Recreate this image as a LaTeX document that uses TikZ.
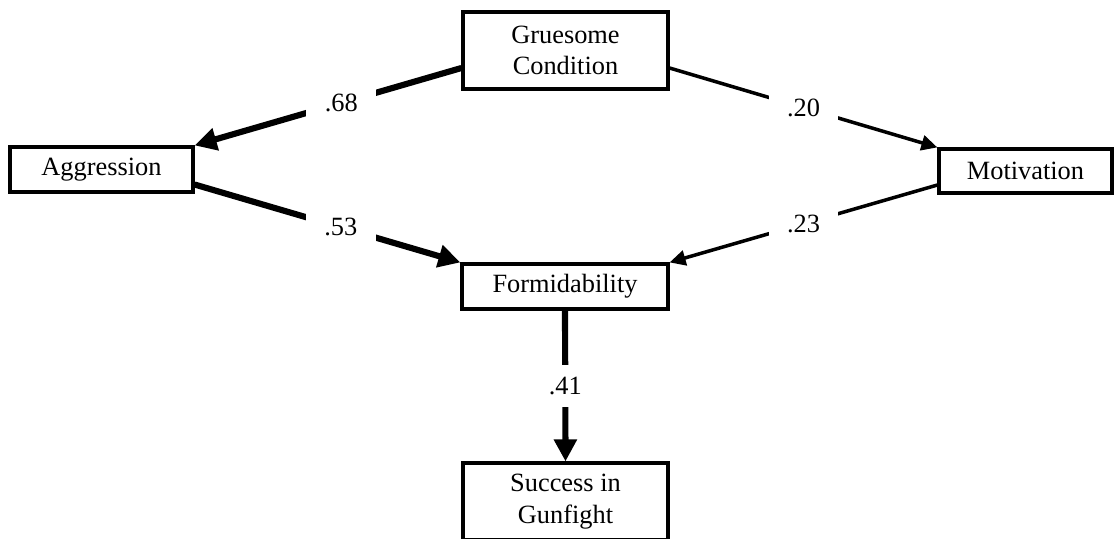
\documentclass[tikz,border=0pt]{standalone}
\usepackage{fontspec}
\setmainfont{Liberation Serif}
\usepackage{tikz}
\usetikzlibrary{positioning,arrows.meta,calc}
\definecolor{ink}{HTML}{000000}
\tikzset{
    varbox/.style={
        draw=ink, fill=white, line width=1.8pt,
        inner sep=0pt, align=center,
        font=\fontsize{15}{18}\selectfont
    },
    pathlabel/.style={
        fill=white, inner xsep=0.37cm, inner ysep=0.25cm,
        font=\fontsize{15}{18}\selectfont
    },
    strongarrow/.style={-{Triangle[length=0.44cm, width=0.44cm]}, line width=3.5pt, color=ink},
    weakarrow/.style={-{Triangle[length=0.32cm, width=0.3cm]}, line width=2pt, color=ink},
}
\begin{document}
\begin{tikzpicture}
        \useasboundingbox (0,0) rectangle (22.28,-10.76);
        \node[varbox, minimum width=4.1cm, minimum height=1.54cm] (gruesome) at (11.31,-1.01) {Gruesome\\Condition};
        \node[varbox, minimum width=3.66cm, minimum height=0.9cm] (aggression) at (2.03,-3.39) {Aggression};
        \node[varbox, minimum width=3.46cm, minimum height=0.88cm] (motivation) at (20.51,-3.42) {Motivation};
        \node[varbox, minimum width=4.12cm, minimum height=0.9cm] (formid) at (11.30,-5.73) {Formidability};
        \node[varbox, minimum width=4.1cm, minimum height=1.54cm] (success) at (11.31,-10.03) {Success in\\Gunfight};
        % paths
        \draw[strongarrow] ([yshift=-0.35cm]gruesome.west) -- node[pathlabel, pos=0.45] (l68) {.68} (aggression.north east);
        \draw[weakarrow] ([yshift=-0.35cm]gruesome.east) -- node[pathlabel, pos=0.5] (l20) {.20} (motivation.north west);
        \draw[strongarrow] ([yshift=-0.3cm]aggression.east) -- node[pathlabel, pos=0.55] (l53) {.53} (formid.north west);
        \draw[weakarrow] ([yshift=-0.28cm]motivation.west) -- node[pathlabel, pos=0.5] (l23) {.23} (formid.north east);
        \draw[strongarrow] (formid.south) -- node[pathlabel] (l41) {.41} (success.north);
\end{tikzpicture}
\end{document}
